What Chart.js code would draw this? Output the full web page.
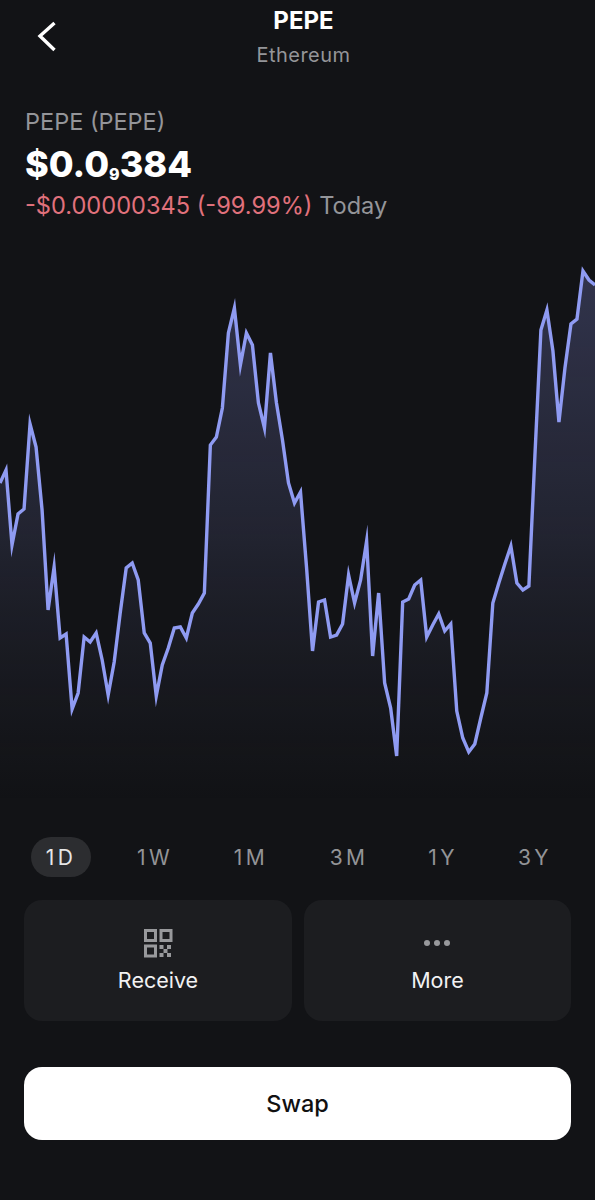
<!DOCTYPE html>
<html><head><meta charset="utf-8">
<script src="https://cdn.jsdelivr.net/npm/chart.js@4"></script>
<style>
html,body{margin:0;padding:0;background:#121316;}
body{width:595px;height:1200px;position:relative;overflow:hidden;font-family:Inter,"Noto Sans",sans-serif;-webkit-font-smoothing:antialiased}
.t{position:absolute;white-space:nowrap;line-height:1}
#wrap{position:absolute;left:0;top:240px;width:595px;height:560px}
.r{position:absolute;top:857px;transform:translate(-50%,-50%);font-size:21px;letter-spacing:3.4px;color:#939497;white-space:nowrap;line-height:1}
.card{position:absolute;top:900px;height:121px;background:#1c1d20;border-radius:18px}
.lab{position:absolute;top:970px;text-align:center;color:#f2f2f3;font-size:21.5px;line-height:21px}
</style></head><body>
<svg style="position:absolute;left:36px;top:20px" width="24" height="34" viewBox="0 0 24 34"><path d="M18.5 3 L4 16 L18.5 30" fill="none" stroke="#fff" stroke-width="3.4"/></svg>
<div class="t" style="left:0;width:607px;text-align:center;top:9px;font-size:24px;font-weight:700;color:#fff">PEPE</div>
<div class="t" style="left:0;width:607px;text-align:center;top:45px;font-size:20px;color:#949599;letter-spacing:.45px">Ethereum</div>
<div class="t" style="left:25px;top:110px;font-size:23.5px;color:#949599">PEPE (PEPE)</div>
<div class="t" style="left:25px;top:146px;font-size:36px;font-weight:800;color:#fff">$0.0<span style="font-size:16px;position:relative;top:3px">9</span>384</div>
<div class="t" style="left:25px;top:194px;font-size:23.6px;color:#e0717c">-$0.00000345 (-99.99%) <span style="color:#949599">Today</span></div>

<div id="wrap"><canvas id="c" width="595" height="560"></canvas></div>

<div style="position:absolute;left:31px;top:837px;width:60px;height:40px;border-radius:20px;background:#2c2d30"></div>
<div class="r" style="left:61px;color:#e6e6e7">1D</div>
<div class="r" style="left:155px">1W</div>
<div class="r" style="left:251px">1M</div>
<div class="r" style="left:349px">3M</div>
<div class="r" style="left:443px">1Y</div>
<div class="r" style="left:535px">3Y</div>

<div class="card" style="left:24px;width:268px"></div>
<div class="card" style="left:304px;width:267px"></div>
<svg style="position:absolute;left:143px;top:928px" width="30" height="30" viewBox="0 0 30 30" fill="none" stroke="#98999c" stroke-width="3">
<rect x="2.5" y="2.5" width="10" height="10"/><rect x="18" y="2.5" width="10" height="10"/><rect x="2.5" y="18" width="10" height="10"/>
<g fill="#98999c" stroke="none"><rect x="16.5" y="17" width="4" height="4"/><rect x="24" y="17" width="4" height="4"/><rect x="20.5" y="21" width="4" height="4"/><rect x="16.5" y="25" width="4" height="4"/><rect x="24" y="25" width="4" height="4"/></g></svg>
<svg style="position:absolute;left:422px;top:936px" width="30" height="14" viewBox="0 0 30 14" fill="#98999c"><circle cx="5" cy="7" r="3"/><circle cx="15" cy="7" r="3"/><circle cx="25" cy="7" r="3"/></svg>
<div class="lab" style="left:24px;width:268px">Receive</div>
<div class="lab" style="left:304px;width:267px">More</div>

<div style="position:absolute;left:24px;top:1067px;width:547px;height:73px;border-radius:18px;background:#fff"></div>
<div class="t" style="left:24px;width:547px;text-align:center;top:1092px;font-size:23.5px;font-weight:500;color:#111">Swap</div>

<script>
// Height of the line above the chart floor (one reading per sample)
const samples = Array.from({length:100},(_,i)=>String(i));
const priceLevel = [
317,330,255,286,291,376,353,290,190,233,162,166,91,107,163,158,167,140,105,138,
187,232,237,220,167,157,104,135,152,172,173,162,187,196,207,355,363,392,467,492,
435,467,455,397,372,447,397,360,317,297,308,233,149,198,200,163,165,176,225,197,
220,259,144,207,117,92,44,198,201,215,220,163,175,186,169,176,89,62,48,56,
82,107,197,217,236,254,217,210,214,344,470,490,449,378,432,476,481,529,520,515
];
const ctx = document.getElementById('c').getContext('2d');
new Chart(ctx,{
  type:'line',
  data:{labels:samples,datasets:[{
    data:priceLevel,
    borderColor:'#8f9bf2',
    borderWidth:3.4,
    borderJoinStyle:'miter',
    tension:0,
    pointRadius:0,
    fill:'origin',
    backgroundColor(c){
      const a=c.chart.chartArea; if(!a) return 'transparent';
      const g=c.chart.ctx.createLinearGradient(0,a.top,0,a.bottom);
      g.addColorStop(0,'rgba(92,96,150,0.46)');
      g.addColorStop(0.5,'rgba(80,84,125,0.28)');
      g.addColorStop(1,'rgba(60,62,85,0)');
      return g;
    }
  }]},
  options:{
    responsive:false,animation:false,
    layout:{padding:0},
    plugins:{legend:{display:false},tooltip:{enabled:false}},
    scales:{
      x:{display:false,offset:false},
      y:{display:false,min:0,max:560}
    }
  }
});
</script>
</body></html>
